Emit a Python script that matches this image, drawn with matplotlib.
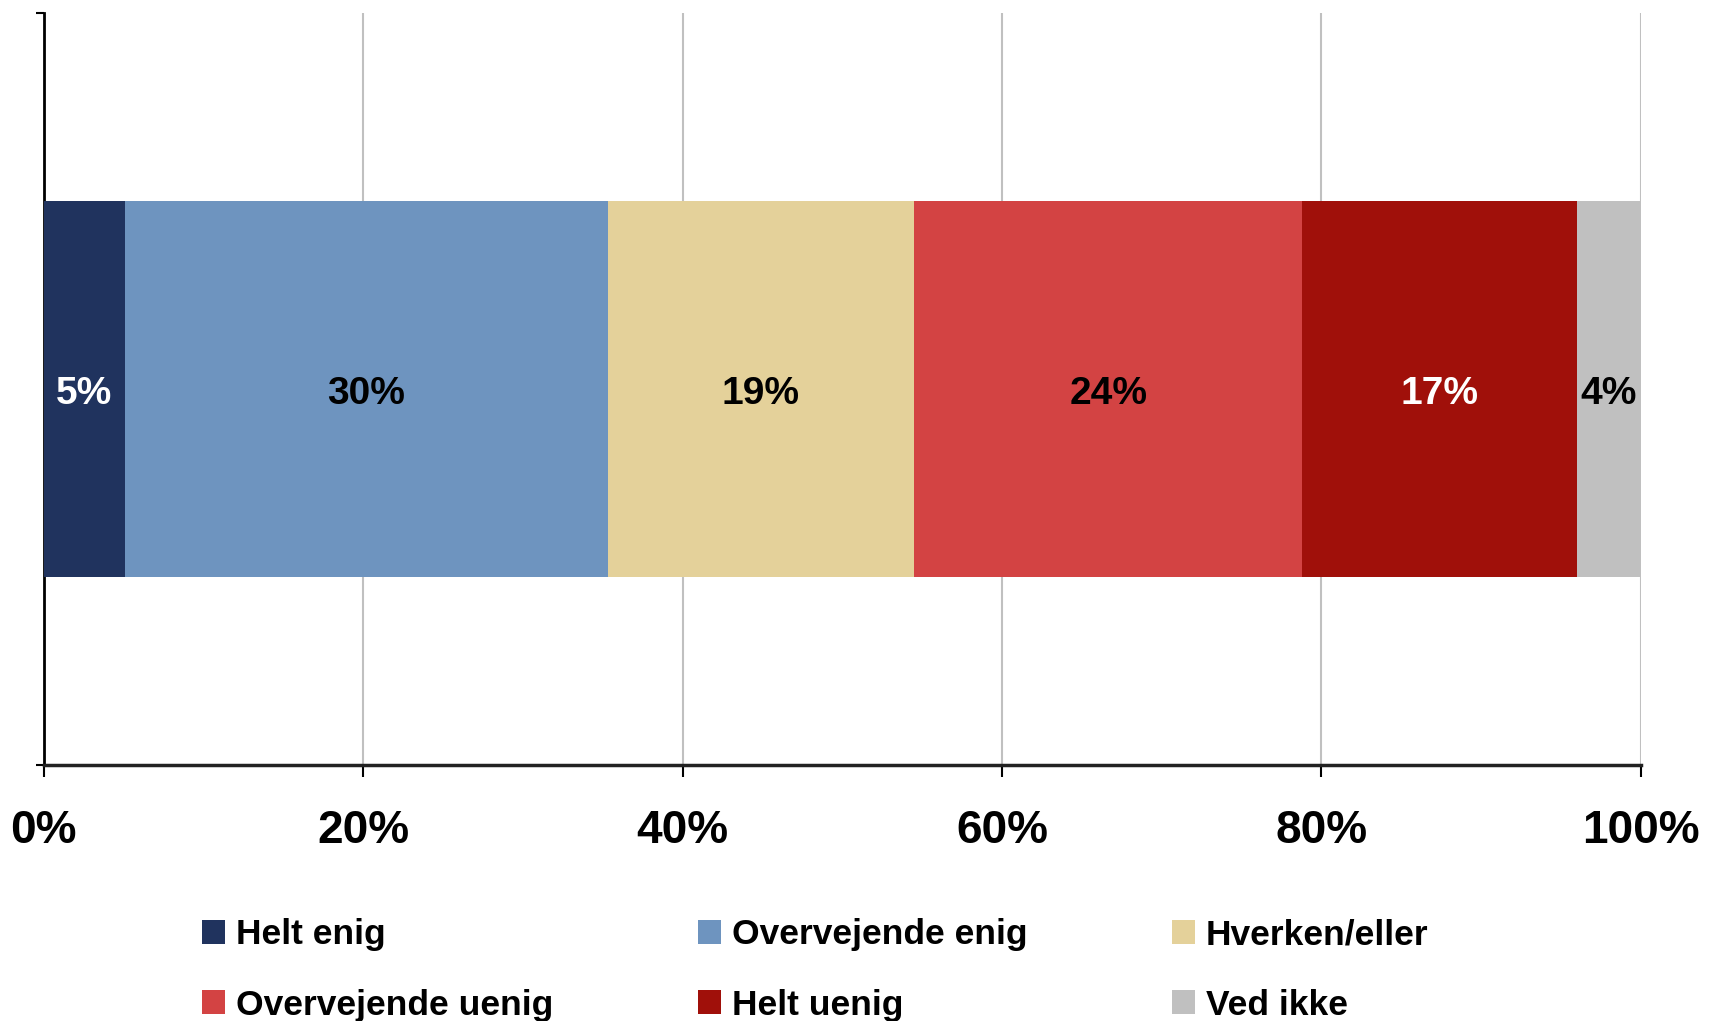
import matplotlib
matplotlib.use("Agg")
import matplotlib.pyplot as plt
from matplotlib.patches import Patch

categories = ["Helt enig", "Overvejende enig", "Hverken/eller",
              "Overvejende uenig", "Helt uenig", "Ved ikke"]
values = [5.1, 30.2, 19.2, 24.3, 17.2, 4.0]
labels = ["5%", "30%", "19%", "24%", "17%", "4%"]
colors = ["#20335E", "#6E94BF", "#E4D19A", "#D34343", "#A0100A", "#C0C0C0"]
label_colors = ["white", "black", "black", "black", "white", "black"]
xticks = [0, 20, 40, 60, 80, 100]
xticklabels = ["0%", "20%", "40%", "60%", "80%", "100%"]

plt.rcParams['font.family'] = ['Liberation Sans', 'DejaVu Sans']
plt.rcParams['font.weight'] = 'bold'

fig = plt.figure(figsize=(17.12, 10.21), dpi=100)
ax = fig.add_axes([0.0255, 0.2507, 0.933, 0.7363])

left = 0
for v, lab, c, lc in zip(values, labels, colors, label_colors):
    ax.barh(0, v, left=left, height=1.0, color=c, zorder=3)
    # label sits a touch below the bar centre, as in the original
    ax.text(left + v / 2, -0.012, lab, ha='center', va='center', color=lc,
            fontsize=28, fontweight='bold', zorder=4)
    left += v

ax.set_xlim(0, 100)
ax.set_ylim(-1, 1)
ax.set_xticks(xticks)
ax.set_xticklabels(xticklabels, fontsize=33, fontweight='bold')
ax.set_yticks([-1, 1])
ax.set_yticklabels([])
ax.tick_params(axis='x', length=8.6, width=1.5, pad=23, direction='out')
ax.tick_params(axis='y', length=5.5, width=1.5, direction='out')

ax.grid(axis='x', color='#C0C0C0', linewidth=1.5, zorder=0)
ax.set_axisbelow(True)
for s in ['top', 'right']:
    ax.spines[s].set_visible(False)
ax.spines['left'].set_linewidth(2)
ax.spines['bottom'].set_linewidth(2.5)
ax.spines['bottom'].set_color('#222222')

handles = [Patch(facecolor=c, edgecolor='none') for c in colors]
order = [0, 3, 1, 4, 2, 5]
fig.legend([handles[i] for i in order], [categories[i] for i in order],
           ncol=3, loc='upper left', bbox_to_anchor=(0.118, 0.1005),
           frameon=False, borderpad=0, borderaxespad=0,
           prop={'size': 25.5, 'weight': 'bold'},
           handlelength=0.65, handleheight=0.65, handletextpad=0.3,
           labelspacing=1.05, columnspacing=4.1)

fig.savefig("out.png", dpi=100)
